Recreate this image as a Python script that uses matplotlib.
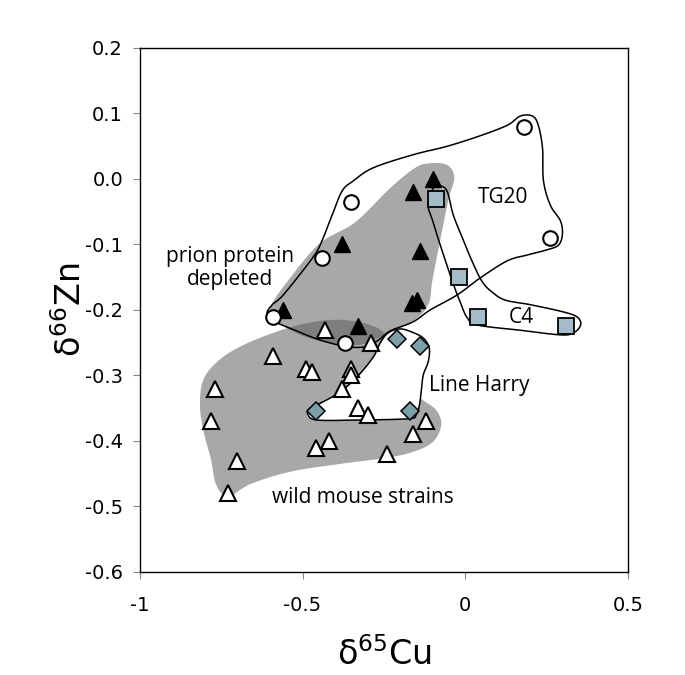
import numpy as np
import matplotlib.pyplot as plt
from matplotlib.patches import Polygon

# Datos (delta65Cu, delta66Zn)
tg20_cu = [0.18, -0.35, -0.44, 0.26, -0.59, -0.37]
tg20_zn = [0.08, -0.035, -0.12, -0.09, -0.21, -0.25]

prion_cu = [-0.10, -0.16, -0.38, -0.14, -0.165, -0.15, -0.33, -0.56]
prion_zn = [0.00, -0.02, -0.10, -0.11, -0.19, -0.185, -0.225, -0.20]

c4_cu = [-0.09, -0.02, 0.04, 0.31]
c4_zn = [-0.03, -0.15, -0.21, -0.225]

harry_cu = [-0.21, -0.14, -0.46, -0.17]
harry_zn = [-0.245, -0.255, -0.355, -0.355]

wild_cu = [-0.43, -0.29, -0.59, -0.49, -0.47, -0.35, -0.35, -0.38, -0.77, -0.78,
           -0.33, -0.30, -0.42, -0.46, -0.70, -0.73, -0.24, -0.12, -0.16]
wild_zn = [-0.23, -0.25, -0.27, -0.29, -0.295, -0.29, -0.30, -0.32, -0.32, -0.37,
           -0.35, -0.36, -0.40, -0.41, -0.43, -0.48, -0.42, -0.37, -0.39]

# Contornos de las zonas (coordenadas de datos)
prion_zona = [(-0.108, 0.024), (-0.055, 0.021), (-0.034, 0.002), (-0.052, -0.032),
              (-0.077, -0.093), (-0.101, -0.154), (-0.114, -0.192), (-0.163, -0.218),
              (-0.246, -0.238), (-0.323, -0.253), (-0.415, -0.250), (-0.507, -0.238),
              (-0.575, -0.218), (-0.599, -0.197), (-0.538, -0.151), (-0.446, -0.098),
              (-0.338, -0.066), (-0.231, -0.014), (-0.154, 0.017)]

wild_zona = [(-0.815, -0.345), (-0.805, -0.307), (-0.762, -0.279), (-0.692, -0.256),
             (-0.590, -0.235), (-0.486, -0.220), (-0.384, -0.215), (-0.292, -0.223),
             (-0.246, -0.238), (-0.215, -0.276), (-0.184, -0.315), (-0.132, -0.337),
             (-0.089, -0.353), (-0.074, -0.376), (-0.101, -0.402), (-0.163, -0.417),
             (-0.246, -0.426), (-0.384, -0.435), (-0.538, -0.447), (-0.661, -0.466),
             (-0.729, -0.485), (-0.765, -0.467), (-0.781, -0.429), (-0.805, -0.383)]

tg20_zona = [(-0.593, -0.192), (-0.559, -0.177), (-0.476, -0.125), (-0.446, -0.101),
             (-0.409, -0.055), (-0.378, -0.018), (-0.344, -0.003), (-0.283, 0.017),
             (-0.160, 0.037), (-0.055, 0.050), (0.046, 0.066), (0.129, 0.082),
             (0.169, 0.096), (0.206, 0.096), (0.224, 0.082), (0.237, 0.047),
             (0.240, -0.003), (0.261, -0.040), (0.292, -0.064), (0.298, -0.085),
             (0.286, -0.101), (0.252, -0.108), (0.191, -0.116), (0.129, -0.125),
             (0.046, -0.151), (-0.025, -0.177), (-0.108, -0.200), (-0.160, -0.218),
             (-0.231, -0.232), (-0.267, -0.246), (-0.307, -0.256), (-0.363, -0.256),
             (-0.446, -0.246), (-0.523, -0.231), (-0.584, -0.218), (-0.609, -0.206)]

c4_zona = [(-0.108, -0.029), (-0.098, -0.014), (-0.074, -0.011), (-0.055, -0.020),
           (-0.037, -0.055), (-0.009, -0.090), (0.022, -0.127), (0.052, -0.157),
           (0.083, -0.173), (0.123, -0.185), (0.200, -0.192), (0.301, -0.203),
           (0.344, -0.211), (0.354, -0.223), (0.332, -0.235), (0.292, -0.238),
           (0.169, -0.231), (0.037, -0.223), (0.006, -0.212), (-0.015, -0.189),
           (-0.040, -0.156), (-0.077, -0.101), (-0.101, -0.063), (-0.114, -0.043)]

harry_zona = [(-0.261, -0.250), (-0.237, -0.235), (-0.200, -0.229), (-0.163, -0.234),
              (-0.129, -0.243), (-0.111, -0.258), (-0.114, -0.279), (-0.129, -0.299),
              (-0.135, -0.322), (-0.141, -0.345), (-0.151, -0.360), (-0.175, -0.366),
              (-0.332, -0.368), (-0.455, -0.368), (-0.483, -0.360), (-0.480, -0.351),
              (-0.452, -0.344), (-0.421, -0.336), (-0.384, -0.325), (-0.332, -0.302),
              (-0.283, -0.272)]


def suavizar(puntos, n=20):
    # Spline Catmull-Rom cerrado para redondear los contornos
    p = np.array(puntos)
    m = len(p)
    t = np.linspace(0, 1, n, endpoint=False)[:, None]
    out = []
    for i in range(m):
        p0, p1, p2, p3 = p[i - 1], p[i], p[(i + 1) % m], p[(i + 2) % m]
        seg = 0.5 * ((2 * p1) + (-p0 + p2) * t + (2 * p0 - 5 * p1 + 4 * p2 - p3) * t ** 2
                     + (-p0 + 3 * p1 - 3 * p2 + p3) * t ** 3)
        out.append(seg)
    return np.vstack(out)


fig = plt.figure(figsize=(6.85, 6.75), dpi=100)
ax = fig.add_axes([0.204, 0.1526, 0.713, 0.7764])

gris = (0.35, 0.35, 0.35)
ax.add_patch(Polygon(suavizar(wild_zona), closed=True, facecolor=gris, alpha=0.52,
                     edgecolor='none', zorder=1))
ax.add_patch(Polygon(suavizar(prion_zona), closed=True, facecolor=gris, alpha=0.52,
                     edgecolor='none', zorder=1))
ax.add_patch(Polygon(suavizar(harry_zona), closed=True, facecolor='white',
                     edgecolor='black', linewidth=1.1, zorder=2))
ax.add_patch(Polygon(suavizar(tg20_zona), closed=True, facecolor='none',
                     edgecolor='black', linewidth=1.1, zorder=2))
ax.add_patch(Polygon(suavizar(c4_zona), closed=True, facecolor='none',
                     edgecolor='black', linewidth=1.1, zorder=2))

ax.plot(wild_cu, wild_zn, linestyle='none', marker='^', markersize=11,
        markerfacecolor='white', markeredgecolor='black', markeredgewidth=1.5, zorder=3)
ax.plot(prion_cu, prion_zn, linestyle='none', marker='^', markersize=11.5,
        markerfacecolor='black', markeredgecolor='black', zorder=3)
ax.plot(tg20_cu, tg20_zn, linestyle='none', marker='o', markersize=10.5,
        markerfacecolor='white', markeredgecolor='black', markeredgewidth=1.5, zorder=3)
ax.plot(c4_cu, c4_zn, linestyle='none', marker='s', markersize=12,
        markerfacecolor='#a3bcc7', markeredgecolor='black', markeredgewidth=1.3, zorder=4)
ax.plot(harry_cu, harry_zn, linestyle='none', marker='D', markersize=9,
        markerfacecolor='#7d9fa9', markeredgecolor='black', markeredgewidth=1.1, zorder=4)

# Etiquetas de los grupos
fuente = 'Open Sans'
ax.text(0.117, -0.029, 'TG20', fontsize=15, family=fuente, ha='center', va='center')
ax.text(0.172, -0.211, 'C4', fontsize=15, family=fuente, ha='center', va='center')
ax.text(-0.722, -0.136, 'prion protein\ndepleted', fontsize=15, family=fuente,
        ha='center', va='center', linespacing=1.15)
ax.text(0.043, -0.315, 'Line Harry', fontsize=15, family=fuente, ha='center', va='center')
ax.text(-0.314, -0.486, 'wild mouse strains', fontsize=15, family=fuente,
        ha='center', va='center')

ax.set_xlim(-1, 0.5)
ax.set_ylim(-0.6, 0.2)
ax.set_xticks([-1, -0.5, 0, 0.5])
ax.set_xticklabels(['-1', '-0.5', '0', '0.5'])
ax.set_yticks(np.arange(-6, 3) / 10)
ax.set_yticklabels(['%.1f' % v for v in np.arange(-6, 3) / 10])
ax.tick_params(direction='out', length=5, width=0.8, color='#888888',
               labelsize=14, pad=7)
ax.tick_params(axis='x', pad=12)
for s in ax.spines.values():
    s.set_linewidth(1.0)

ax.set_xlabel(r'δ$^{65}$Cu', fontsize=24, labelpad=16)
ax.set_ylabel(r'δ$^{66}$Zn', fontsize=24)
ax.yaxis.set_label_coords(-0.105, 0.5)

fig.savefig('out.png', dpi=100)
